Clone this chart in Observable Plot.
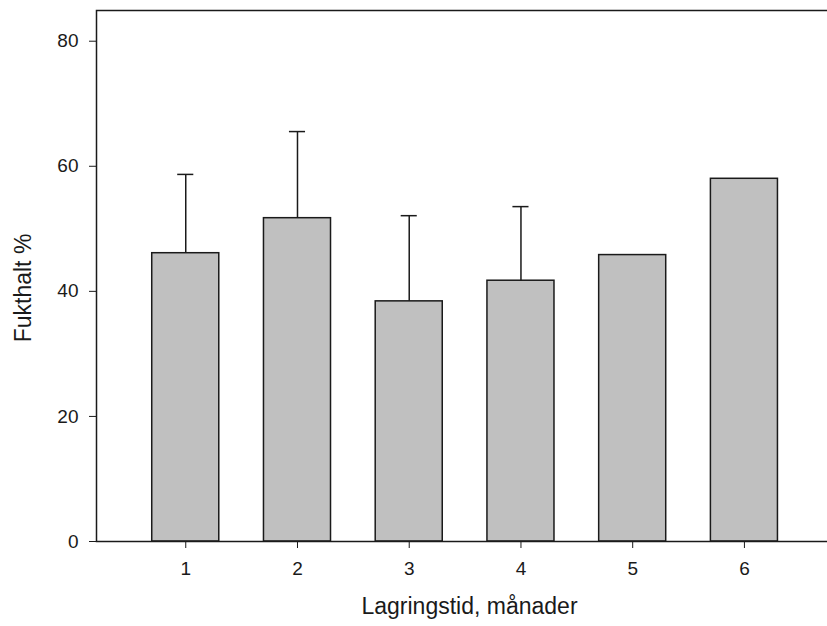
<!DOCTYPE html>
<html>
<head>
<meta charset="utf-8">
<script src="https://cdn.jsdelivr.net/npm/d3@7"></script>
<script src="https://cdn.jsdelivr.net/npm/@observablehq/plot@0.6"></script>
<style>
  html, body { margin: 0; padding: 0; background: #fff; overflow: hidden; }
  #wrap { width: 827px; height: 626px; overflow: hidden; }
  #wrap svg { max-width: none !important; }
</style>
</head>
<body>
<div id="wrap"></div>
<script>
const months = [1, 2, 3, 4, 5, 6];
const moisture = [46.1, 51.7, 38.4, 41.7, 45.8, 58.0];
const upper = [58.7, 65.55, 52.1, 53.55, null, null];
const yTicks = [0, 20, 40, 60, 80];

const data = months.map((m, i) => ({m, v: moisture[i], u: upper[i]}));
const err = data.filter(d => d.u != null);

const font = "'Liberation Sans', Arial, Helvetica, sans-serif";
const ink = "#1a1a1a";

const chart = Plot.plot({
  width: 842,
  height: 626,
  marginLeft: 96,
  marginRight: 0,
  marginTop: 10,
  marginBottom: 85,
  style: {fontFamily: font, fontSize: "19px", color: ink, background: "#fff", maxWidth: "none"},
  x: {
    type: "linear",
    domain: [0.2012, 6.8777],
    ticks: months,
    tickFormat: d => String(d),
    tickSize: 7,
    tickPadding: 13,
    label: "Lagringstid, månader",
    labelArrow: "none",
    labelAnchor: "center",
    labelOffset: 72
  },
  y: {
    domain: [0, 84.91],
    ticks: yTicks,
    tickSize: 7,
    tickPadding: 11,
    label: "Fukthalt %",
    labelArrow: "none",
    labelAnchor: "center",
    labelOffset: 82
  },
  marks: [
    Plot.rectY(data, {
      x1: d => d.m - 0.3,
      x2: d => d.m + 0.3,
      y1: 0,
      y2: "v",
      fill: "#c0c0c0",
      stroke: ink,
      strokeWidth: 1.5
    }),
    Plot.ruleX(err, {x: "m", y1: "v", y2: "u", stroke: ink, strokeWidth: 1.5}),
    Plot.ruleY(err, {y: "u", x1: d => d.m - 0.072, x2: d => d.m + 0.072, stroke: ink, strokeWidth: 1.5}),
    Plot.frame({stroke: ink, strokeWidth: 1.5})
  ]
});

chart.querySelectorAll("[aria-label='x-axis label'] text, [aria-label='y-axis label'] text").forEach(t => {
  t.style.fontSize = "23px";
  t.textContent = t.textContent.replace(/\s*[→↑]\s*$/, "").replace(/^\s*[←↓↑]\s*/, "");
});
const yl = chart.querySelector("[aria-label='y-axis label']");
if (yl) yl.setAttribute("transform", (yl.getAttribute("transform") || "") + " translate(0,12)");
document.getElementById("wrap").appendChild(chart);
</script>
</body>
</html>
